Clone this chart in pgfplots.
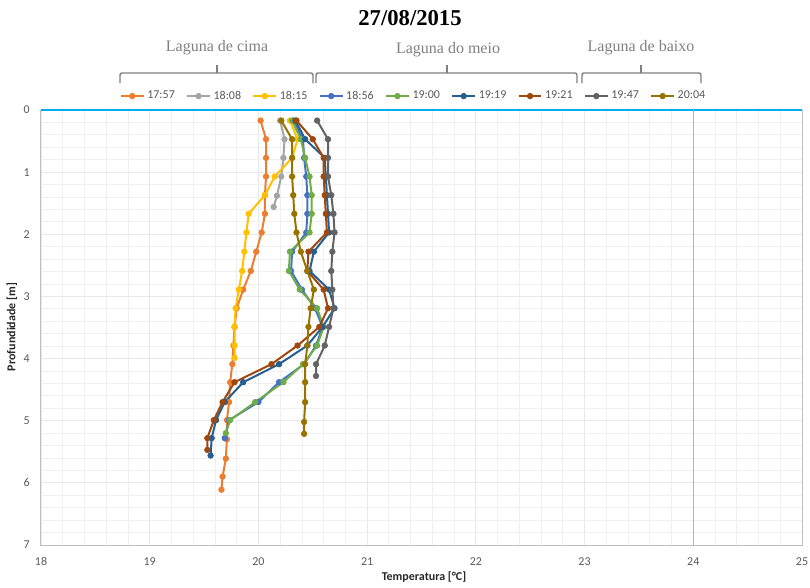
\documentclass[border=0pt]{standalone}
\usepackage{pgfplots}
\pgfplotsset{compat=1.18}
\usepackage{fontspec}
\setmainfont{Carlito}
\newfontfamily\seriffam{Liberation Serif}

\definecolor{sOrange}{HTML}{ED7D31}
\definecolor{sLgray}{HTML}{A5A5A5}
\definecolor{sGold}{HTML}{FFC000}
\definecolor{sBlue}{HTML}{4472C4}
\definecolor{sGreen}{HTML}{70AD47}
\definecolor{sDblue}{HTML}{255E91}
\definecolor{sBrown}{HTML}{9E480E}
\definecolor{sDgray}{HTML}{636363}
\definecolor{sOlive}{HTML}{997300}
\definecolor{surface}{HTML}{00AEEF}
\definecolor{tickgray}{HTML}{595959}
\definecolor{bracegray}{HTML}{808080}

\begin{document}
\begin{tikzpicture}
\begin{axis}[
  scale only axis, width=570.75pt, height=326.25pt,
  xmin=18, xmax=25, ymin=0, ymax=7, y dir=reverse,
  xtick={18,...,25}, ytick={0,...,7},
  minor x tick num=4, minor y tick num=4,
  grid=both,
  major grid style={draw=black!9, line width=0.6pt},
  minor grid style={draw=black!6, line width=0.6pt},
  major tick length=0pt, minor tick length=0pt,
  axis line style={draw=black!25, line width=0.75pt},
  tick label style={font=\fontsize{9}{10}\selectfont, text=tickgray},
  /pgf/number format/assume math mode=true,
  xticklabel style={yshift=-6pt},
  yticklabel style={xshift=-5pt},
  clip=false,
  every axis plot/.append style={line width=1.5pt, mark=*, mark size=2.1pt,
    mark options={solid, line width=0.5pt}},
  legend columns=9,
  legend style={at={(axis description cs:0.49,1.032)}, anchor=center,
    draw=none, fill=none, font=\fontsize{9}{10}\selectfont, text=tickgray,
    /tikz/every even column/.append style={column sep=6.5pt}},
]
% water surface and reference line
\addplot[color=surface, line width=2.2pt, mark=none, forget plot] coordinates {(18,0) (25,0)};
\addplot[color=black!30, line width=0.75pt, mark=none, forget plot] coordinates {(24,0) (24,7)};

% temperature profiles (temperature, depth)
\addplot[color=sOrange] coordinates {
 (20.02,0.17)(20.07,0.47)(20.07,0.77)(20.07,1.07)(20.06,1.37)(20.06,1.67)(20.03,1.97)
 (19.98,2.28)(19.93,2.59)(19.86,2.89)(19.80,3.19)(19.78,3.49)(19.77,3.79)(19.76,4.09)
 (19.74,4.38)(19.73,4.70)(19.71,4.99)(19.71,5.30)(19.70,5.61)(19.67,5.90)(19.66,6.11)};
\addlegendentry{17:57}
\addplot[color=sLgray] coordinates {
 (20.20,0.17)(20.24,0.47)(20.23,0.77)(20.21,1.07)(20.17,1.38)(20.14,1.56)};
\addlegendentry{18:08}
\addplot[color=sGold] coordinates {
 (20.29,0.17)(20.36,0.47)(20.31,0.77)(20.15,1.07)(20.06,1.37)(19.91,1.67)(19.89,1.97)
 (19.87,2.28)(19.85,2.59)(19.82,2.89)(19.79,3.19)(19.78,3.49)(19.78,3.79)(19.78,3.99)};
\addlegendentry{18:15}
\addplot[color=sBlue] coordinates {
 (20.32,0.17)(20.41,0.47)(20.42,0.77)(20.44,1.07)(20.45,1.37)(20.45,1.67)(20.44,1.97)
 (20.31,2.28)(20.30,2.59)(20.40,2.89)(20.52,3.19)(20.59,3.49)(20.53,3.79)(20.42,4.09)
 (20.19,4.38)(20.00,4.70)(19.73,4.99)(19.69,5.28)};
\addlegendentry{18:56}
\addplot[color=sGreen] coordinates {
 (20.31,0.17)(20.39,0.47)(20.43,0.77)(20.47,1.07)(20.49,1.37)(20.49,1.67)(20.47,1.97)
 (20.29,2.28)(20.28,2.59)(20.38,2.89)(20.54,3.19)(20.60,3.49)(20.54,3.79)(20.41,4.09)
 (20.23,4.38)(19.97,4.70)(19.74,4.99)(19.70,5.20)};
\addlegendentry{19:00}
\addplot[color=sDblue] coordinates {
 (20.34,0.17)(20.43,0.47)(20.61,0.77)(20.62,1.07)(20.63,1.37)(20.64,1.67)(20.65,1.97)
 (20.51,2.28)(20.47,2.59)(20.65,2.89)(20.70,3.19)(20.59,3.49)(20.45,3.79)(20.19,4.09)
 (19.86,4.38)(19.69,4.70)(19.61,4.99)(19.57,5.28)(19.56,5.56)};
\addlegendentry{19:19}
\addplot[color=sBrown] coordinates {
 (20.35,0.17)(20.50,0.47)(20.60,0.77)(20.60,1.07)(20.61,1.37)(20.62,1.67)(20.63,1.97)
 (20.46,2.28)(20.45,2.59)(20.60,2.89)(20.64,3.19)(20.56,3.49)(20.36,3.79)(20.12,4.09)
 (19.78,4.38)(19.67,4.70)(19.59,4.99)(19.53,5.28)(19.53,5.47)};
\addlegendentry{19:21}
\addplot[color=sDgray] coordinates {
 (20.54,0.17)(20.64,0.47)(20.64,0.77)(20.64,1.07)(20.67,1.37)(20.69,1.67)(20.70,1.97)
 (20.68,2.28)(20.67,2.59)(20.68,2.89)(20.69,3.19)(20.65,3.49)(20.61,3.79)(20.53,4.09)
 (20.53,4.28)};
\addlegendentry{19:47}
\addplot[color=sOlive] coordinates {
 (20.21,0.17)(20.31,0.47)(20.31,0.77)(20.31,1.07)(20.32,1.37)(20.33,1.67)(20.35,1.97)
 (20.39,2.28)(20.45,2.59)(20.51,2.89)(20.48,3.19)(20.46,3.49)(20.45,3.79)(20.43,4.09)
 (20.43,4.38)(20.43,4.70)(20.42,5.02)(20.42,5.21)};
\addlegendentry{20:04}
\end{axis}

% title, lagoon groups and axis titles (pixel-based frame, origin top-left)
\begin{scope}[x=0.75pt, y=-0.75pt, shift={(-30.75pt,408.75pt)}]
  \node[font=\seriffam\bfseries\fontsize{17}{20}\selectfont] at (410,18) {27/08/2015};
  \begin{scope}[font=\seriffam\fontsize{12}{14}\selectfont, text=bracegray]
    \node at (217,48) {Laguna de cima};
    \node at (448,50) {Laguna do meio};
    \node at (641,48) {Laguna de baixo};
  \end{scope}
  \begin{scope}[draw=bracegray, line width=1.1pt, rounded corners=1.5pt]
    \draw (120,83) -- (120,73) -- (313,73) -- (313,83);
    \draw (217,73) -- (217,65);
    \draw (316,83) -- (316,73) -- (577,73) -- (577,83);
    \draw (447,73) -- (447,65);
    \draw (582,83) -- (582,73) -- (701,73) -- (701,83);
    \draw (641,73) -- (641,65);
  \end{scope}
  \node[rotate=90, font=\bfseries\fontsize{9}{10}\selectfont, text=black!85] at (12,327) {Profundidade [m]};
  \node[font=\bfseries\fontsize{9}{10}\selectfont, text=black!85] at (424,577) {Temperatura [°C]};
  \pgfresetboundingbox
  \path (0,0) rectangle (810,587);
\end{scope}
\end{tikzpicture}
\end{document}
